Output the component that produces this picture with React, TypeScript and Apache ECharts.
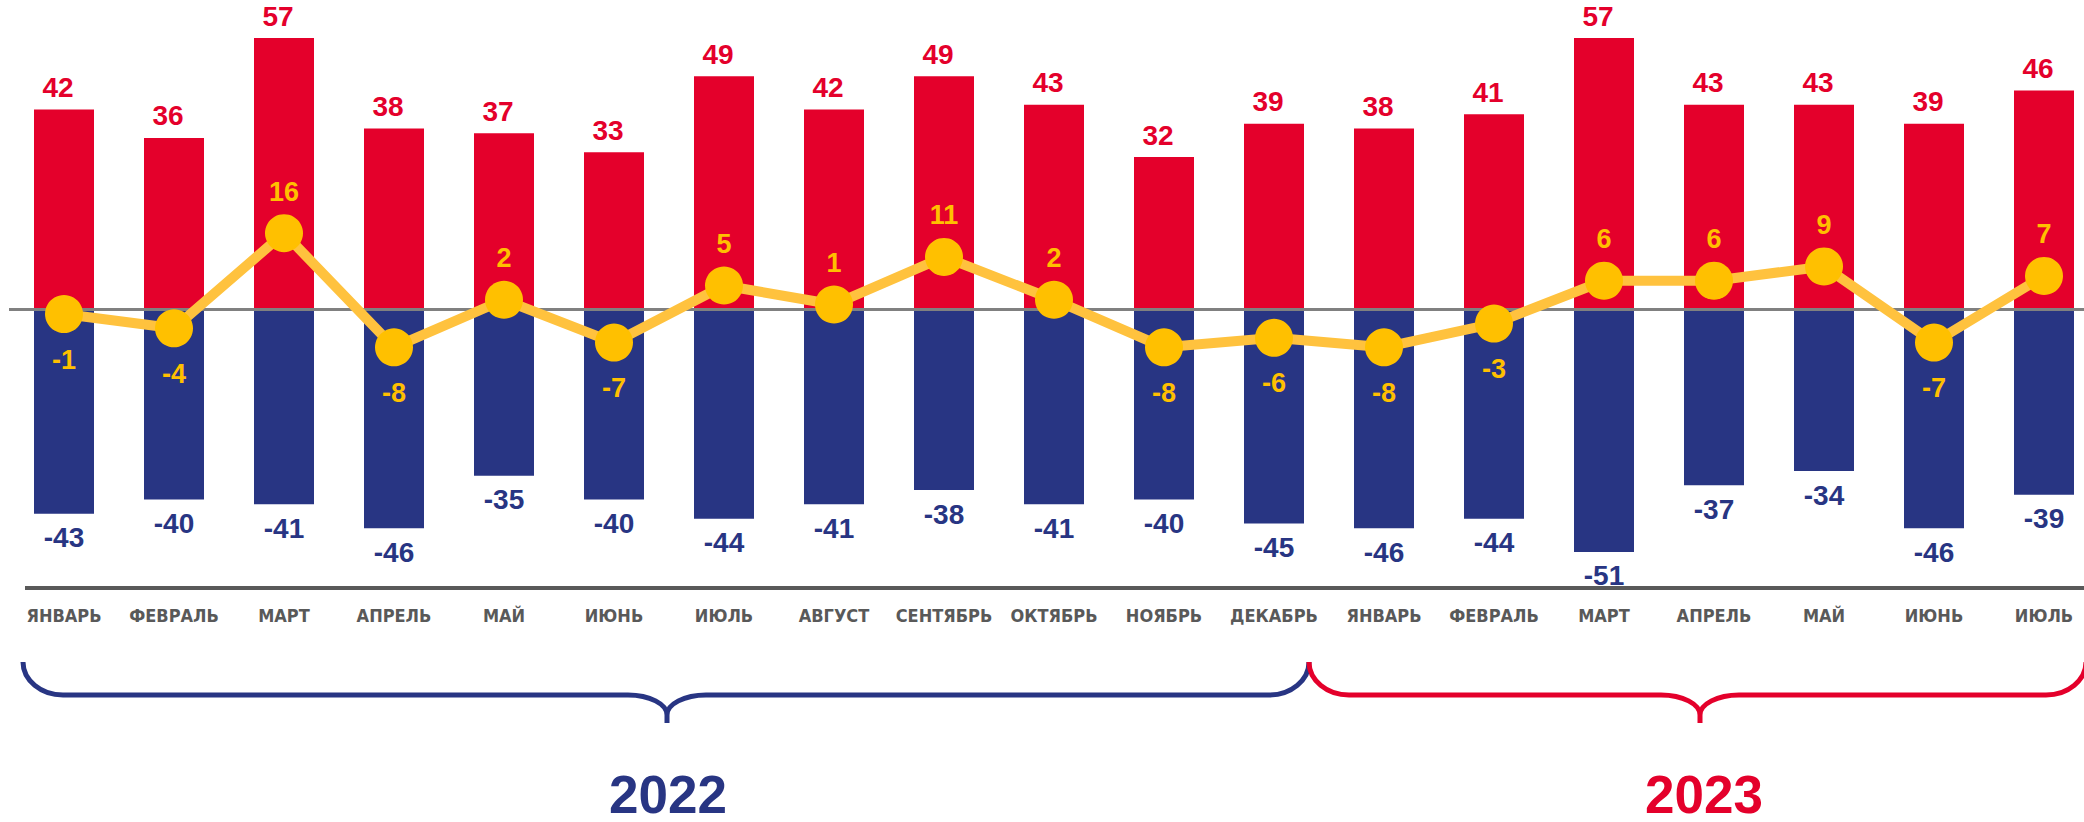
import React, { useEffect, useRef } from "react";
import * as echarts from "echarts";

const months = [
  "ЯНВАРЬ", "ФЕВРАЛЬ", "МАРТ", "АПРЕЛЬ", "МАЙ", "ИЮНЬ", "ИЮЛЬ", "АВГУСТ", "СЕНТЯБРЬ", "ОКТЯБРЬ", "НОЯБРЬ", "ДЕКАБРЬ",
  "ЯНВАРЬ", "ФЕВРАЛЬ", "МАРТ", "АПРЕЛЬ", "МАЙ", "ИЮНЬ", "ИЮЛЬ",
];
const positiveValues = [42, 36, 57, 38, 37, 33, 49, 42, 49, 43, 32, 39, 38, 41, 57, 43, 43, 39, 46];
const negativeValues = [-43, -40, -41, -46, -35, -40, -44, -41, -38, -41, -40, -45, -46, -44, -51, -37, -34, -46, -39];
const balanceValues = [-1, -4, 16, -8, 2, -7, 5, 1, 11, 2, -8, -6, -8, -3, 6, 6, 9, -7, 7];
const years = ["2022", "2023"];

const RED = "#E4002B";
const BLUE = "#283583";
const YELLOW = "#FFC000";
const YELLOW_LINE = "#FFC23E";
const GRAY = "#595959";

function bracketPath(x0: number, x1: number, xm: number, yTop: number, yMid: number, yTip: number, r: number) {
  const cw = 39;
  const ch = 20;
  const k = 0.55;
  const dy = yMid - yTop;
  return [
    `M ${x0} ${yTop}`,
    `C ${x0} ${yTop + k * dy} ${x0 + r - k * r} ${yMid} ${x0 + r} ${yMid}`,
    `L ${xm - cw} ${yMid}`,
    `C ${xm - cw + k * cw} ${yMid} ${xm} ${yMid + ch - k * ch} ${xm} ${yMid + ch}`,
    `L ${xm} ${yTip}`,
    `M ${xm} ${yMid + ch}`,
    `C ${xm} ${yMid + ch - k * ch} ${xm + cw - k * cw} ${yMid} ${xm + cw} ${yMid}`,
    `L ${x1 - r} ${yMid}`,
    `C ${x1 - r + k * r} ${yMid} ${x1} ${yTop + k * dy} ${x1} ${yTop}`,
  ].join(" ");
}

let registered = false;
function registerShapes() {
  if (registered) return;
  registered = true;
  echarts.graphic.registerShape(
    "bracketBlue",
    echarts.graphic.extendPath(bracketPath(23, 1309, 667, 662, 695, 723, 40), {}) as any
  );
  echarts.graphic.registerShape(
    "bracketRed",
    echarts.graphic.extendPath(bracketPath(1309, 2086, 1700, 662, 695, 723, 40), {}) as any
  );
}

export default function App() {
  const ref = useRef<HTMLDivElement>(null);

  useEffect(() => {
    document.body.style.margin = "0";
    document.body.style.overflow = "hidden";
    if (!ref.current) return;
    registerShapes();
    const chart = echarts.init(ref.current, undefined, { renderer: "svg" });
    const numFont = "'Liberation Sans', Arial, sans-serif";

    chart.setOption({
      animation: false,
      grid: { left: 9, top: 0, width: 2090, height: 590 },
      xAxis: {
        type: "category",
        data: months,
        axisLine: { show: false, onZero: false },
        axisTick: { show: false },
        axisLabel: {
          color: GRAY,
          fontSize: 18,
          fontWeight: "bold",
          fontFamily: "'Liberation Sans Narrow', 'Arial Narrow', 'DejaVu Sans Condensed', sans-serif",
          margin: 16,
          interval: 0,
        },
        splitLine: { show: false },
      },
      yAxis: {
        type: "value",
        min: -59,
        max: 65,
        show: false,
        splitLine: { show: false },
      },
      series: [
        {
          type: "bar",
          stack: "total",
          data: positiveValues,
          barWidth: 60,
          itemStyle: { color: RED },
          label: {
            show: true,
            position: "top",
            distance: 8,
            offset: [-6, 0],
            color: RED,
            fontSize: 28,
            fontWeight: "bold",
            fontFamily: numFont,
          },
          markLine: {
            silent: true,
            symbol: "none",
            label: { show: false },
            lineStyle: { color: "#808080", width: 3, type: "solid" },
            data: [{ yAxis: 0 }],
            z: 3,
          },
        },
        {
          type: "bar",
          stack: "total",
          data: negativeValues,
          barWidth: 60,
          itemStyle: { color: BLUE },
          label: {
            show: true,
            position: "bottom",
            distance: 10,
            color: BLUE,
            fontSize: 28,
            fontWeight: "bold",
            fontFamily: numFont,
          },
        },
        {
          type: "line",
          z: 5,
          data: balanceValues.map((v) => ({
            value: v,
            label: { position: v >= 0 ? "top" : "bottom", distance: v >= 0 ? 9 : 13 },
          })),
          symbol: "circle",
          symbolSize: 38,
          itemStyle: { color: YELLOW },
          lineStyle: { color: YELLOW_LINE, width: 10 },
          label: {
            show: true,
            color: YELLOW,
            fontSize: 27,
            fontWeight: "bold",
            fontFamily: numFont,
          },
        },
      ],
      graphic: [
        {
          type: "line",
          shape: { x1: 25, y1: 588, x2: 2100, y2: 588 },
          style: { stroke: GRAY, lineWidth: 4 },
        },
        {
          type: "bracketBlue",
          x: 0,
          y: 0,
          style: { stroke: BLUE, lineWidth: 5, fill: "none" },
        },
        {
          type: "bracketRed",
          x: 0,
          y: 0,
          style: { stroke: RED, lineWidth: 5, fill: "none" },
        },
        {
          type: "text",
          x: 668,
          y: 794,
          style: {
            text: years[0],
            fill: BLUE,
            font: `bold 53px ${numFont}`,
            lineHeight: 50,
            textAlign: "center",
            textVerticalAlign: "middle",
          },
        },
        {
          type: "text",
          x: 1704,
          y: 794,
          style: {
            text: years[1],
            fill: RED,
            font: `bold 53px ${numFont}`,
            lineHeight: 50,
            textAlign: "center",
            textVerticalAlign: "middle",
          },
        },
      ],
    });

    return () => {
      chart.dispose();
    };
  }, []);

  return <div ref={ref} style={{ width: 2100, height: 822 }} />;
}
